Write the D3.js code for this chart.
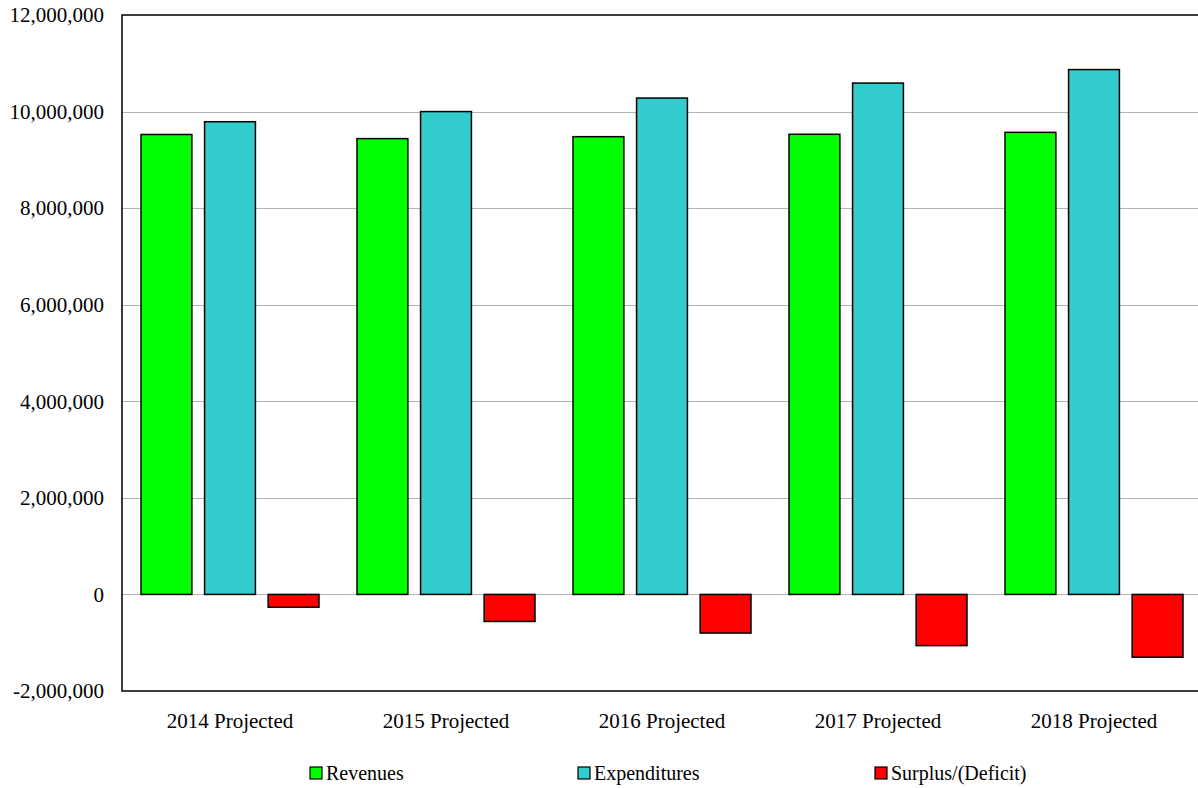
<!DOCTYPE html>
<html>
<head>
<meta charset="utf-8">
<script src="https://cdn.jsdelivr.net/npm/d3@7/dist/d3.min.js"></script>
<style>
  html, body { margin: 0; padding: 0; background: #fff; }
  svg text { font-family: "Liberation Serif", "Times New Roman", serif; fill: #000; }
</style>
</head>
<body>
<svg id="chart" width="1198" height="788"></svg>
<script>
// Five-year budget projection
const categories = ["2014 Projected", "2015 Projected", "2016 Projected", "2017 Projected", "2018 Projected"];
const seriesNames = ["Revenues", "Expenditures", "Surplus/(Deficit)"];
const revenues     = [9525000, 9440000, 9480000, 9530000, 9570000];
const expenditures = [9790000, 10000000, 10280000, 10590000, 10870000];
const surplus      = [-265000, -560000, -800000, -1060000, -1300000];
const yTicks = [-2000000, 0, 2000000, 4000000, 6000000, 8000000, 10000000, 12000000];
const colors = ["#00FF00", "#33CCCC", "#FF0000"];

const seriesValues = [revenues, expenditures, surplus];
const serif = "'Liberation Serif', 'Times New Roman', serif";

const svg = d3.select("#chart");
const plot = { left: 122, top: 15, right: 1202, bottom: 691 };

const y = d3.scaleLinear().domain([-2000000, 12000000]).range([plot.bottom, plot.top]);
const x0 = d3.scaleBand().domain(categories).range([plot.left, plot.right]).paddingInner(0).paddingOuter(0);
const x1 = d3.scaleBand().domain(seriesNames).range([19, x0.bandwidth() - 19]).paddingInner(0.2).paddingOuter(0);

// horizontal gridlines
svg.append("g")
  .selectAll("line")
  .data(yTicks.filter(t => t > -2000000 && t < 12000000))
  .join("line")
  .attr("x1", plot.left).attr("x2", plot.right)
  .attr("y1", d => Math.round(y(d)) + 0.5).attr("y2", d => Math.round(y(d)) + 0.5)
  .attr("stroke", "#b4b4b4").attr("stroke-width", 1);

// bars
const rows = categories.map((c, i) => seriesNames.map((s, j) => ({ cat: c, series: s, value: seriesValues[j][i], color: colors[j] })));
svg.append("g")
  .selectAll("g")
  .data(rows)
  .join("g")
  .attr("transform", (d, i) => `translate(${x0(categories[i])},0)`)
  .selectAll("rect")
  .data(d => d)
  .join("rect")
  .attr("x", d => x1(d.series))
  .attr("width", x1.bandwidth())
  .attr("y", d => y(Math.max(0, d.value)))
  .attr("height", d => Math.abs(y(d.value) - y(0)))
  .attr("fill", d => d.color)
  .attr("stroke", "#000")
  .attr("stroke-width", 1.5);

// frame
svg.append("path")
  .attr("d", `M${plot.right},${plot.top}H${plot.left}V${plot.bottom}H${plot.right}`)
  .attr("fill", "none").attr("stroke", "#000").attr("stroke-width", 1.5);

// y axis labels (plain hyphen for negatives)
const fmt = d3.format(",");
const yAxis = d3.axisLeft(y).tickValues(yTicks).tickSize(0).tickPadding(18)
  .tickFormat(d => fmt(d).replace("\u2212", "-"));
const gy = svg.append("g").attr("transform", `translate(${plot.left},0)`).call(yAxis)
  .attr("font-family", serif).attr("font-size", 21);
gy.select(".domain").remove();
gy.selectAll("text").attr("fill", "#000");

// x axis labels
const xAxis = d3.axisBottom(x0).tickSize(0).tickPadding(22);
const gx = svg.append("g").attr("transform", `translate(0,${plot.bottom})`).call(xAxis)
  .attr("font-family", serif).attr("font-size", 21);
gx.select(".domain").remove();
gx.selectAll("text").attr("fill", "#000");

// legend
const legendX = [310, 578, 875];
const legend = svg.append("g").attr("font-family", serif).attr("font-size", 20)
  .selectAll("g").data(seriesNames).join("g")
  .attr("transform", (d, i) => `translate(${legendX[i]},767)`);
legend.append("rect").attr("width", 12).attr("height", 12)
  .attr("fill", (d, i) => colors[i]).attr("stroke", "#000").attr("stroke-width", 1.2);
legend.append("text").attr("x", 16).attr("y", 12.5).text(d => d);
</script>
</body>
</html>
